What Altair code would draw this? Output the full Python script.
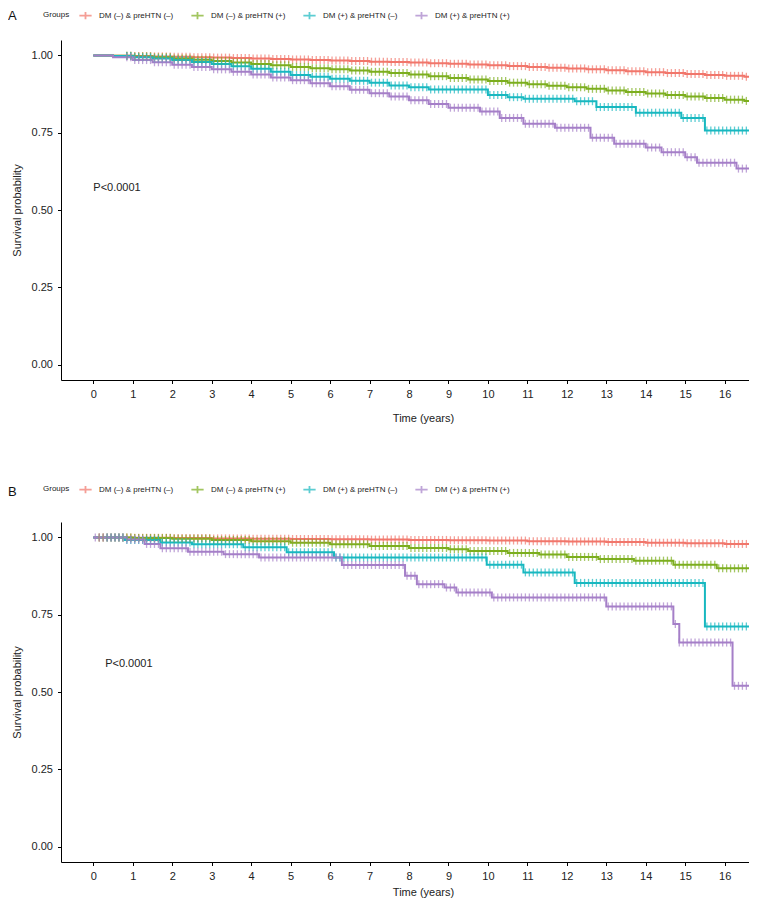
import bisect
import altair as alt
import pandas as pd

GROUPS = ["DM (–) & preHTN (–)", "DM (–) & preHTN (+)", "DM (+) & preHTN (–)", "DM (+) & preHTN (+)"]
COLORS = ["#F1766B", "#7CAE1E", "#18B8C0", "#A57FC8"]
X_TICKS = list(range(0, 17))
Y_TICKS = [0.0, 0.25, 0.5, 0.75, 1.0]

# ---------------- Panel A (step times / survival) ----------------
HALF_YEARS = [0, 0.5, 1, 1.5, 2, 2.5, 3, 3.5, 4, 4.5, 5, 5.5, 6, 6.5, 7, 7.5, 8, 8.5,
              9, 9.5, 10, 10.5, 11, 11.5, 12, 12.5, 13, 13.5, 14, 14.5, 15, 15.5, 16, 16.5, 16.8]
A_RED_S = [1.000, 0.999, 0.998, 0.997, 0.996, 0.9945, 0.993, 0.9915, 0.990, 0.9885,
           0.987, 0.9855, 0.984, 0.982, 0.980, 0.9785, 0.977, 0.975, 0.973, 0.9705,
           0.968, 0.9655, 0.963, 0.9605, 0.958, 0.955, 0.952, 0.949, 0.946, 0.943,
           0.940, 0.937, 0.934, 0.931, 0.930]
A_GREEN_S = [1.000, 0.999, 0.997, 0.994, 0.990, 0.986, 0.982, 0.977, 0.972, 0.968,
             0.963, 0.959, 0.955, 0.951, 0.947, 0.943, 0.938, 0.933, 0.927, 0.922,
             0.917, 0.912, 0.907, 0.902, 0.897, 0.892, 0.887, 0.882, 0.877, 0.872,
             0.867, 0.862, 0.857, 0.853, 0.851]
A_TEAL_T = [0, 0.5, 1, 1.5, 2, 2.5, 3, 3.5, 4, 4.5, 5, 5.5, 6, 6.5, 7, 7.5, 8, 8.5,
            10.0, 10.5, 10.9, 12.2, 12.75, 13.75, 14.9, 15.5, 16.8]
A_TEAL_S = [1.0, 0.998, 0.994, 0.99, 0.985, 0.979, 0.972, 0.965, 0.957, 0.947,
            0.937, 0.931, 0.925, 0.918, 0.912, 0.903, 0.897, 0.89,
            0.872, 0.865, 0.86, 0.852, 0.833, 0.815, 0.798, 0.757, 0.757]
A_PURPLE_T = [0, 0.5, 1, 1.5, 2, 2.5, 3, 3.5, 4, 4.5, 5, 5.5, 6, 6.5, 7, 7.5, 8, 8.5, 9,
              9.8, 10.3, 10.9, 11.7, 12.6, 13.2, 14.0, 14.4, 15.0, 15.3, 16.3, 16.8]
A_PURPLE_S = [1.0, 0.994, 0.985, 0.978, 0.97, 0.963, 0.955, 0.947, 0.938, 0.929,
              0.92, 0.91, 0.9, 0.889, 0.878, 0.867, 0.855, 0.843, 0.831,
              0.819, 0.798, 0.779, 0.766, 0.734, 0.714, 0.702, 0.687, 0.671, 0.653, 0.634, 0.634]

# ---------------- Panel B ----------------
B_RED_T = [0, 1, 2, 3, 4, 5, 6, 7, 8, 9, 10, 11, 12, 13, 14, 15, 16, 16.8]
B_RED_S = [1.0, 0.999, 0.998, 0.997, 0.996, 0.995, 0.994, 0.993, 0.992, 0.991,
           0.990, 0.988, 0.987, 0.985, 0.983, 0.981, 0.979, 0.979]
B_GREEN_T = [0, 1, 2, 3, 4, 5, 6, 7, 8, 9, 9.5, 10.5, 11.3, 12, 12.8, 13.7, 14.7, 15.8, 16.8]
B_GREEN_S = [1.0, 0.998, 0.996, 0.992, 0.988, 0.983, 0.978, 0.972, 0.966, 0.962,
             0.956, 0.950, 0.945, 0.937, 0.930, 0.925, 0.912, 0.900, 0.900]
B_TEAL_T = [0, 0.8, 1.7, 2.5, 3.8, 4.9, 6.1, 9.97, 10.9, 12.2, 15.5, 16.8]
B_TEAL_S = [1.0, 0.992, 0.984, 0.978, 0.968, 0.952, 0.935, 0.912, 0.887, 0.853, 0.712, 0.712]
B_PURPLE_T = [0, 0.85, 1.3, 1.7, 2.4, 3.3, 4.2, 6.3, 7.9, 8.2, 8.9, 9.2, 10.1, 13.0,
              14.7, 14.85, 16.2, 16.8]
B_PURPLE_S = [1.0, 0.993, 0.979, 0.965, 0.954, 0.946, 0.935, 0.911, 0.876, 0.849,
              0.838, 0.822, 0.806, 0.777, 0.72, 0.66, 0.52, 0.52]

# censoring mark times (the "+" marks)
CENSOR_TIMES = [
    0.05, 0.15, 0.25, 0.35, 0.45, 0.55, 0.65, 0.75, 0.85, 0.95,
    1.05, 1.15, 1.25, 1.35, 1.45, 1.55, 1.65, 1.75, 1.85, 1.95,
    2.05, 2.15, 2.25, 2.35, 2.45, 2.55, 2.65, 2.75, 2.85, 2.95,
    3.05, 3.15, 3.25, 3.35, 3.45, 3.55, 3.65, 3.75, 3.85, 3.95,
    4.05, 4.15, 4.25, 4.35, 4.45, 4.55, 4.65, 4.75, 4.85, 4.95,
    5.05, 5.15, 5.25, 5.35, 5.45, 5.55, 5.65, 5.75, 5.85, 5.95,
    6.05, 6.15, 6.25, 6.35, 6.45, 6.55, 6.65, 6.75, 6.85, 6.95,
    7.05, 7.15, 7.25, 7.35, 7.45, 7.55, 7.65, 7.75, 7.85, 7.95,
    8.05, 8.15, 8.25, 8.35, 8.45, 8.55, 8.65, 8.75, 8.85, 8.95,
    9.05, 9.15, 9.25, 9.35, 9.45, 9.55, 9.65, 9.75, 9.85, 9.95,
    10.05, 10.15, 10.25, 10.35, 10.45, 10.55, 10.65, 10.75, 10.85, 10.95,
    11.05, 11.15, 11.25, 11.35, 11.45, 11.55, 11.65, 11.75, 11.85, 11.95,
    12.05, 12.15, 12.25, 12.35, 12.45, 12.55, 12.65, 12.75, 12.85, 12.95,
    13.05, 13.15, 13.25, 13.35, 13.45, 13.55, 13.65, 13.75, 13.85, 13.95,
    14.05, 14.15, 14.25, 14.35, 14.45, 14.55, 14.65, 14.75, 14.85, 14.95,
    15.05, 15.15, 15.25, 15.35, 15.45, 15.55, 15.65, 15.75, 15.85, 15.95,
    16.05, 16.15, 16.25, 16.35, 16.45, 16.55, 16.65, 16.75,
]
CENSOR_START_A = [0.85, 0.85, 0.85, 0.85]
CENSOR_START_B = [0.15, 0.15, 0.35, 0.05]

PANEL_LETTERS = ["A", "B"]
PVAL_TEXT = "P<0.0001"
PVAL_A = (0.0, 0.57)
PVAL_B = (0.3, 0.592)

FONT = "Liberation Sans"
W, H = 688, 340
X_DOMAIN = [-0.819, 16.617]
Y_DOMAIN = [-0.05, 1.05]


def build_frames(curves, starts):
    step_rows, cens_rows = [], []
    for gi, (times, surv) in enumerate(curves):
        g = GROUPS[gi]
        for t, s in zip(times, surv):
            step_rows.append({"time": t, "surv": s, "group": g, "gi": gi})
        for c in CENSOR_TIMES:
            if c < starts[gi] or c > times[-1]:
                continue
            idx = bisect.bisect_right(times, c) - 1
            cens_rows.append({"time": c, "surv": surv[idx], "group": g, "gi": gi})
    return pd.DataFrame(step_rows), pd.DataFrame(cens_rows)


def panel(curves, starts, letter, pval, legend_y, letter_y, xtitle_pad):
    steps, cens = build_frames(curves, starts)
    x = alt.X("time:Q", scale=alt.Scale(domain=X_DOMAIN, nice=False, zero=False),
              axis=alt.Axis(values=X_TICKS, title="Time (years)", labelPadding=5,
                            titlePadding=xtitle_pad, titleX=362, titleAnchor="middle", labelFlush=False))
    y = alt.Y("surv:Q", scale=alt.Scale(domain=Y_DOMAIN, nice=False, zero=False),
              axis=alt.Axis(values=Y_TICKS, format=".2f", title="Survival probability",
                            labelPadding=5, titlePadding=9))
    color = alt.Color("group:N", scale=alt.Scale(domain=GROUPS, range=COLORS),
                      legend=alt.Legend(title="Groups", orient="none", legendX=-18, legendY=legend_y,
                                        direction="horizontal", columns=4, titleOrient="left",
                                        titleFontWeight="normal", titleFontSize=8, labelFontSize=8,
                                        titleFont=FONT, labelFont=FONT, titleColor="#222", labelColor="#222",
                                        symbolType="M-1,0H1M0,-0.6V0.6", symbolSize=150,
                                        symbolStrokeWidth=1.8, columnPadding=13, labelOffset=6,
                                        titlePadding=8, titleBaseline="middle", titleAnchor="middle"))
    lines = alt.Chart(steps).mark_line(interpolate="step-after", strokeWidth=2, clip=True).encode(
        x=x, y=y, color=color, detail="gi:N", order="time:Q")
    ticks = alt.Chart(cens).mark_tick(orient="vertical", size=8, thickness=1.3, clip=True).encode(
        x=x, y=y, color=color)
    ptxt = alt.Chart(pd.DataFrame({"time": [pval[0]], "surv": [pval[1]], "label": [PVAL_TEXT]})).mark_text(
        align="left", baseline="middle", fontSize=11, font=FONT, color="#222").encode(
        x=alt.X("time:Q"), y=alt.Y("surv:Q"), text="label:N")
    lt = alt.Chart(pd.DataFrame({"label": [letter]})).mark_text(
        align="left", baseline="middle", fontSize=13, font=FONT, color="#111").encode(
        x=alt.value(-53), y=alt.value(letter_y), text="label:N")
    return alt.layer(lines, ticks, ptxt, lt).properties(width=W, height=H)


pA = panel([(HALF_YEARS, A_RED_S), (HALF_YEARS, A_GREEN_S), (A_TEAL_T, A_TEAL_S), (A_PURPLE_T, A_PURPLE_S)],
           CENSOR_START_A, PANEL_LETTERS[0], PVAL_A, -32, -24, 13)
pB = panel([(B_RED_T, B_RED_S), (B_GREEN_T, B_GREEN_S), (B_TEAL_T, B_TEAL_S), (B_PURPLE_T, B_PURPLE_S)],
           CENSOR_START_B, PANEL_LETTERS[1], PVAL_B, -40, -30, 5)

chart = alt.vconcat(pA, pB, spacing=58).resolve_scale(color="independent").resolve_legend(
    color="independent").properties(padding=0).configure_view(stroke=None).configure_axis(
    grid=False, domainColor="#000", tickColor="#000", tickSize=3.5, domainWidth=1, tickWidth=1,
    labelFontSize=11, titleFontSize=11, labelFont=FONT, titleFont=FONT, labelColor="#222",
    titleColor="#222", titleFontWeight="normal")

chart.save("out.html", embed_options={"renderer": "svg", "actions": False})
